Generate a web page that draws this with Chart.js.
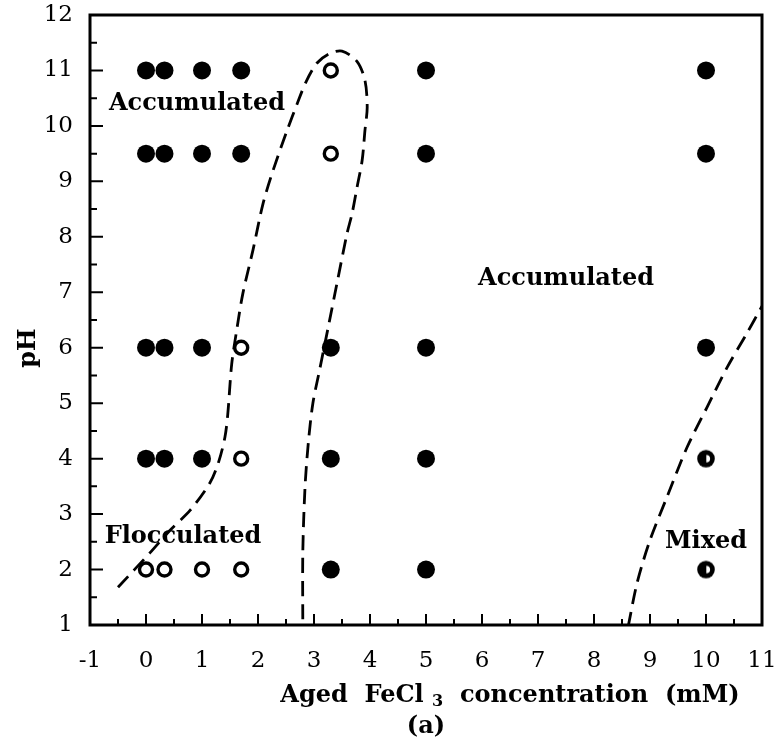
<!DOCTYPE html>
<html>
<head>
<meta charset="utf-8">
<script src="https://cdn.jsdelivr.net/npm/chart.js@4.4.1/dist/chart.umd.min.js"></script>
<style>
  html, body { margin: 0; padding: 0; background: #fff; }
</style>
</head>
<body>
<canvas id="myChart" width="774" height="742"></canvas>
<script>
const concentrations = [0, 0.33, 1, 1.7, 3.3, 5, 10];
const phLevels = [11, 9.5, 6, 4, 2];
// A = accumulated (filled), F = flocculated (open), M = mixed (half)
const stateRows = [
  ["A", "A", "A", "A", "F", "A", "A"],
  ["A", "A", "A", "A", "F", "A", "A"],
  ["A", "A", "A", "F", "A", "A", "A"],
  ["A", "A", "A", "F", "A", "A", "M"],
  ["F", "F", "F", "F", "A", "A", "M"],
];

// dashed region boundaries
const leftBoundaryX = [-0.5, 0.07, 0.43, 0.79, 1.14, 1.3, 1.41, 1.46, 1.53, 1.62, 1.73, 1.91, 2.09, 2.27, 2.52, 2.7, 2.86, 3.05, 3.27, 3.5, 3.77, 3.91, 3.95, 3.91, 3.86, 3.77, 3.68, 3.59, 3.41, 3.25, 3.1, 2.98, 2.9, 2.84, 2.8, 2.8];
const leftBoundaryY = [1.68, 2.3, 2.71, 3.07, 3.56, 3.95, 4.39, 4.8, 5.7, 6.32, 6.98, 7.76, 8.6, 9.2, 9.92, 10.4, 10.8, 11.13, 11.3, 11.35, 11.16, 10.82, 10.33, 9.92, 9.38, 8.9, 8.42, 8.06, 7.16, 6.35, 5.6, 5.0, 4.3, 3.49, 2.3, 1.0];
const rightBoundaryX = [8.61, 8.77, 9.0, 9.3, 9.66, 10.02, 10.38, 10.73, 11.0];
const rightBoundaryY = [0.97, 1.76, 2.53, 3.3, 4.2, 4.93, 5.65, 6.26, 6.75];

const regionNames = ["Accumulated", "Accumulated", "Flocculated", "Mixed"];
const regionX = [0.91, 7.5, 0.66, 10.0];
const regionY = [10.4, 7.25, 2.59, 2.5];

const serif = "'DejaVu Serif', serif";
Chart.defaults.color = "#000";

const pointsFor = (state) => {
  const pts = [];
  stateRows.forEach((row, r) => {
    row.forEach((s, c) => {
      if (s === state) pts.push({ x: concentrations[c], y: phLevels[r] });
    });
  });
  return pts;
};
const zip = (xs, ys) => xs.map((x, i) => ({ x: x, y: ys[i] }));

// half-filled marker for "mixed"
const mixedMarker = document.createElement("canvas");
mixedMarker.width = 20;
mixedMarker.height = 20;
const mctx = mixedMarker.getContext("2d");
mctx.fillStyle = "#000";
mctx.beginPath();
mctx.arc(10, 10, 8.8, 0, Math.PI * 2);
mctx.fill();
mctx.fillStyle = "#fff";
mctx.beginPath();
mctx.arc(10.3, 10, 3.8, -Math.PI / 2, Math.PI / 2);
mctx.closePath();
mctx.fill();

const boundaryStyle = {
  showLine: true,
  pointRadius: 0,
  borderColor: "#000",
  borderWidth: 2.8,
  borderDash: [15, 8],
  tension: 0.3,
  fill: false,
};

const decorPlugin = {
  id: "decor",
  afterDraw(chart) {
    const { ctx, chartArea: a, scales } = chart;
    const xs = scales.x, ys = scales.y;
    ctx.save();
    ctx.strokeStyle = "#000";
    // frame
    ctx.lineWidth = 3;
    ctx.strokeRect(a.left, a.top, a.right - a.left, a.bottom - a.top);
    // inside tick marks
    ctx.lineWidth = 2;
    ctx.beginPath();
    for (let v = -1; v <= 11; v += 0.5) {
      const px = xs.getPixelForValue(v);
      const len = Number.isInteger(v) ? 11 : 6;
      ctx.moveTo(px, a.bottom);
      ctx.lineTo(px, a.bottom - len);
    }
    for (let v = 1; v <= 12; v += 0.5) {
      const py = ys.getPixelForValue(v);
      const len = Number.isInteger(v) ? 13 : 7;
      ctx.moveTo(a.left, py);
      ctx.lineTo(a.left + len, py);
    }
    ctx.stroke();

    // region labels
    ctx.fillStyle = "#000";
    ctx.font = "bold 24px " + serif;
    ctx.textAlign = "center";
    ctx.textBaseline = "middle";
    regionNames.forEach((name, i) => {
      ctx.fillText(name, xs.getPixelForValue(regionX[i]), ys.getPixelForValue(regionY[i]));
    });

    // x axis title with subscript
    const big = "bold 24px " + serif;
    const small = "bold 16px " + serif;
    const parts = [
      { t: "Aged  FeCl ", f: big, dy: 0 },
      { t: "3", f: small, dy: 4 },
      { t: "  concentration  (mM)", f: big, dy: 0 },
    ];
    let total = 0;
    parts.forEach((p) => { ctx.font = p.f; total += ctx.measureText(p.t).width; });
    let cx = 510 - total / 2;
    ctx.textAlign = "left";
    ctx.textBaseline = "alphabetic";
    parts.forEach((p) => {
      ctx.font = p.f;
      ctx.fillText(p.t, cx, 702 + p.dy);
      cx += ctx.measureText(p.t).width;
    });
    ctx.font = big;
    ctx.textAlign = "center";
    ctx.fillText("(a)", (a.left + a.right) / 2, 733);

    // y axis title
    ctx.translate(29, 348);
    ctx.rotate(-Math.PI / 2);
    ctx.textBaseline = "middle";
    ctx.fillText("pH", 0, 0);
    ctx.restore();
  },
};

const ctx = document.getElementById("myChart");
new Chart(ctx, {
  type: "scatter",
  data: {
    datasets: [
      {
        label: "Accumulated",
        data: pointsFor("A"),
        pointRadius: 9,
        pointBackgroundColor: "#000",
        pointBorderColor: "#000",
        pointBorderWidth: 0,
      },
      {
        label: "Flocculated",
        data: pointsFor("F"),
        pointRadius: 6.5,
        pointBackgroundColor: "#fff",
        pointBorderColor: "#000",
        pointBorderWidth: 3.4,
      },
      {
        label: "Mixed",
        data: pointsFor("M"),
        pointStyle: mixedMarker,
      },
      { label: "boundary 1", data: zip(leftBoundaryX, leftBoundaryY), ...boundaryStyle },
      { label: "boundary 2", data: zip(rightBoundaryX, rightBoundaryY), ...boundaryStyle },
    ],
  },
  options: {
    responsive: false,
    animation: false,
    layout: { padding: { top: 15, right: 12, left: 0, bottom: 0 } },
    plugins: {
      legend: { display: false },
      tooltip: { enabled: false },
    },
    scales: {
      x: {
        type: "linear",
        min: -1,
        max: 11,
        grid: { display: false },
        border: { display: false },
        ticks: {
          stepSize: 1,
          autoSkip: false,
          padding: 14,
          font: { family: serif, size: 23 },
        },
        afterFit(s) {
          s.height = 117;
          s.paddingLeft = 0;
          s.paddingRight = 0;
        },
      },
      y: {
        min: 1,
        max: 12,
        grid: { display: false },
        border: { display: false },
        ticks: {
          stepSize: 1,
          autoSkip: false,
          padding: 9,
          font: { family: serif, size: 23 },
        },
        afterFit(s) {
          s.width = 90;
          s.paddingTop = 0;
          s.paddingBottom = 0;
        },
      },
    },
  },
  plugins: [decorPlugin],
});
</script>
</body>
</html>
